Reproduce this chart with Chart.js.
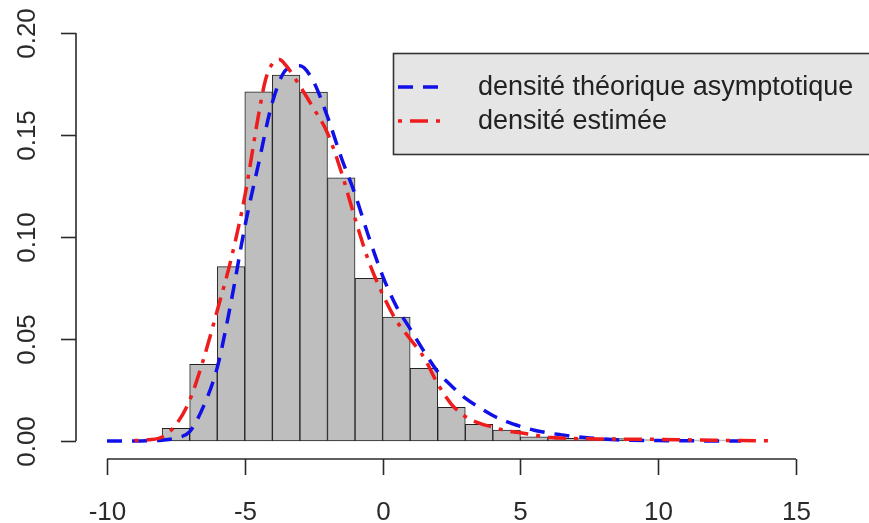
<!DOCTYPE html>
<html>
<head>
<meta charset="utf-8">
<script src="https://cdn.jsdelivr.net/npm/chart.js@4/dist/chart.umd.min.js"></script>
<style>
  html, body { margin: 0; padding: 0; background: #ffffff; }
  #wrap { width: 869px; height: 523px; }
</style>
</head>
<body>
<div id="wrap"><canvas id="c" width="869" height="523"></canvas></div>
<script>
// ---- data ----
const binLefts   = [-8, -7, -6, -5, -4, -3, -2, -1, 0, 1, 2, 3, 4, 5, 6, 7, 8, 9, 10, 11, 12];
const binHeights = [0.0062, 0.0376, 0.0855, 0.1712, 0.1794, 0.1710, 0.1290, 0.0797, 0.0608, 0.0356,
                    0.0165, 0.0082, 0.0054, 0.0021, 0.0013, 0.0012, 0.0012, 0.0006, 0.0005, 0.0004, 0.0004];

const theoX = [-10, -9.5, -9, -8.5, -8, -7.5, -7, -6.5, -6, -5.5, -5, -4.5, -4, -3.5, -3, -2.5, -2, -1.5, -1, -0.5,
               0, 0.5, 1, 1.5, 2, 2.5, 3, 3.5, 4, 4.5, 5, 5.5, 6, 6.5, 7, 7.5, 8, 8.5, 9, 10, 11, 12, 13];
const theoY = [0, 0, 0, 0.0001, 0.0004, 0.0015, 0.0046, 0.017, 0.036, 0.068, 0.105, 0.136, 0.166, 0.182, 0.184, 0.176, 0.159, 0.139, 0.121, 0.100,
               0.081, 0.066, 0.055, 0.044, 0.034, 0.027, 0.021, 0.0165, 0.0125, 0.0095, 0.0072, 0.0053, 0.004, 0.003, 0.0021, 0.0015, 0.001, 0.0006, 0.0004, 0.0002, 0.0001, 0.00005, 0];

const estX = [-9, -8.5, -8, -7.5, -7, -6.5, -6, -5.5, -5, -4.5, -4.25, -4, -3.75, -3.5, -3, -2.5, -2, -1.5, -1, -0.5,
              0, 0.5, 1, 1.5, 2, 2.5, 3, 3.5, 4, 4.5, 5, 5.5, 6, 7, 8, 9, 10, 11, 12, 13, 14];
const estY = [0.0002, 0.0006, 0.002, 0.008, 0.020, 0.040, 0.064, 0.089, 0.120, 0.160, 0.177, 0.185, 0.187, 0.184, 0.174, 0.163, 0.151, 0.132, 0.109, 0.088,
              0.072, 0.059, 0.050, 0.041, 0.028, 0.018, 0.012, 0.0088, 0.0068, 0.005, 0.004, 0.003, 0.0018, 0.0012, 0.001, 0.0009, 0.0008, 0.0006, 0.0004, 0.0002, 0.0001];

const xTicks = [-10, -5, 0, 5, 10, 15];
const yTicks = [0, 0.05, 0.10, 0.15, 0.20];
const yTickLabels = ['0.00', '0.05', '0.10', '0.15', '0.20'];
const legendLabels = ['densité théorique asymptotique', 'densité estimée'];

// ---- build datasets ----
const barPoints = binLefts.map((l, i) => ({ x: l + 0.5, y: binHeights[i] }));
const theoPoints = theoX.map((x, i) => ({ x: x, y: theoY[i] }));
const estPoints = estX.map((x, i) => ({ x: x, y: estY[i] }));

const BLUE = '#1010e8';
const RED = '#ee1c1c';
const BLUE_DASH = [15, 10];
const RED_DASH = [4, 8, 18, 8];
const FONT = '"Liberation Sans", Arial, Helvetica, sans-serif';

const rAxes = {
  id: 'rAxes',
  afterDatasetsDraw(chart) {
    const ctx = chart.ctx;
    const xs = chart.scales.x, ys = chart.scales.y;
    const area = chart.chartArea;
    ctx.save();
    ctx.strokeStyle = '#2a2a2a';
    ctx.fillStyle = '#2a2a2a';
    ctx.lineWidth = 1.6;
    ctx.setLineDash([]);
    // x axis
    const yAx = area.bottom;
    ctx.beginPath();
    ctx.moveTo(xs.getPixelForValue(xTicks[0]), yAx);
    ctx.lineTo(xs.getPixelForValue(xTicks[xTicks.length - 1]), yAx);
    ctx.stroke();
    ctx.font = '26px ' + FONT;
    ctx.textAlign = 'center';
    ctx.textBaseline = 'alphabetic';
    xTicks.forEach(v => {
      const px = Math.round(xs.getPixelForValue(v)) + 0.5;
      ctx.beginPath();
      ctx.moveTo(px, yAx);
      ctx.lineTo(px, yAx + 16);
      ctx.stroke();
      ctx.fillText(String(v), px, yAx + 61);
    });
    // y axis
    const xAx = area.left;
    ctx.beginPath();
    ctx.moveTo(xAx, ys.getPixelForValue(yTicks[0]));
    ctx.lineTo(xAx, ys.getPixelForValue(yTicks[yTicks.length - 1]));
    ctx.stroke();
    yTicks.forEach((v, i) => {
      const py = Math.round(ys.getPixelForValue(v)) + 0.5;
      ctx.beginPath();
      ctx.moveTo(xAx, py);
      ctx.lineTo(xAx - 15, py);
      ctx.stroke();
      ctx.save();
      ctx.translate(xAx - 41, py);
      ctx.rotate(-Math.PI / 2);
      ctx.fillText(yTickLabels[i], 0, 0);
      ctx.restore();
    });

    // legend box
    const bx = 393, by = 53, bw = 500, bh = 101;
    ctx.fillStyle = '#e5e5e5';
    ctx.fillRect(bx, by, bw, bh);
    ctx.strokeStyle = '#333333';
    ctx.lineWidth = 1.6;
    ctx.strokeRect(bx + 0.5, by + 0.5, bw, bh);
    const rows = [87, 121];
    const styles = [[BLUE, BLUE_DASH], [RED, RED_DASH]];
    rows.forEach((ry, i) => {
      ctx.strokeStyle = styles[i][0];
      ctx.lineWidth = 3.5;
      ctx.setLineDash(styles[i][1]);
      ctx.beginPath();
      ctx.moveTo(398, ry);
      ctx.lineTo(446, ry);
      ctx.stroke();
      ctx.setLineDash([]);
      ctx.fillStyle = '#222222';
      ctx.font = '27px ' + FONT;
      ctx.textAlign = 'left';
      ctx.textBaseline = 'middle';
      ctx.fillText(legendLabels[i], 478, ry + 1);
    });
    ctx.restore();
  }
};

new Chart(document.getElementById('c'), {
  type: 'line',
  data: {
    datasets: [
      {
        type: 'line', label: legendLabels[1], data: estPoints, order: 1,
        borderColor: RED, borderWidth: 3.5, borderDash: RED_DASH,
        pointRadius: 0, fill: false, cubicInterpolationMode: 'monotone', tension: 0.4
      },
      {
        type: 'line', label: legendLabels[0], data: theoPoints, order: 2,
        borderColor: BLUE, borderWidth: 3.5, borderDash: BLUE_DASH,
        pointRadius: 0, fill: false, cubicInterpolationMode: 'monotone', tension: 0.4
      },
      {
        type: 'bar', label: 'histogramme', data: barPoints, order: 3,
        backgroundColor: '#bebebe', borderColor: '#222222', borderWidth: 1,
        borderSkipped: false, barPercentage: 1.0, categoryPercentage: 1.0
      }
    ]
  },
  options: {
    responsive: false,
    devicePixelRatio: 1,
    animation: false,
    layout: { padding: { left: 76, right: 0, top: 10, bottom: 64 } },
    plugins: { legend: { display: false }, tooltip: { enabled: false } },
    scales: {
      x: { type: 'linear', min: -11.125, max: 17.649, offset: false, display: false },
      y: { type: 'linear', min: -0.00882, max: 0.2113, display: false }
    }
  },
  plugins: [rAxes]
});
</script>
</body>
</html>
